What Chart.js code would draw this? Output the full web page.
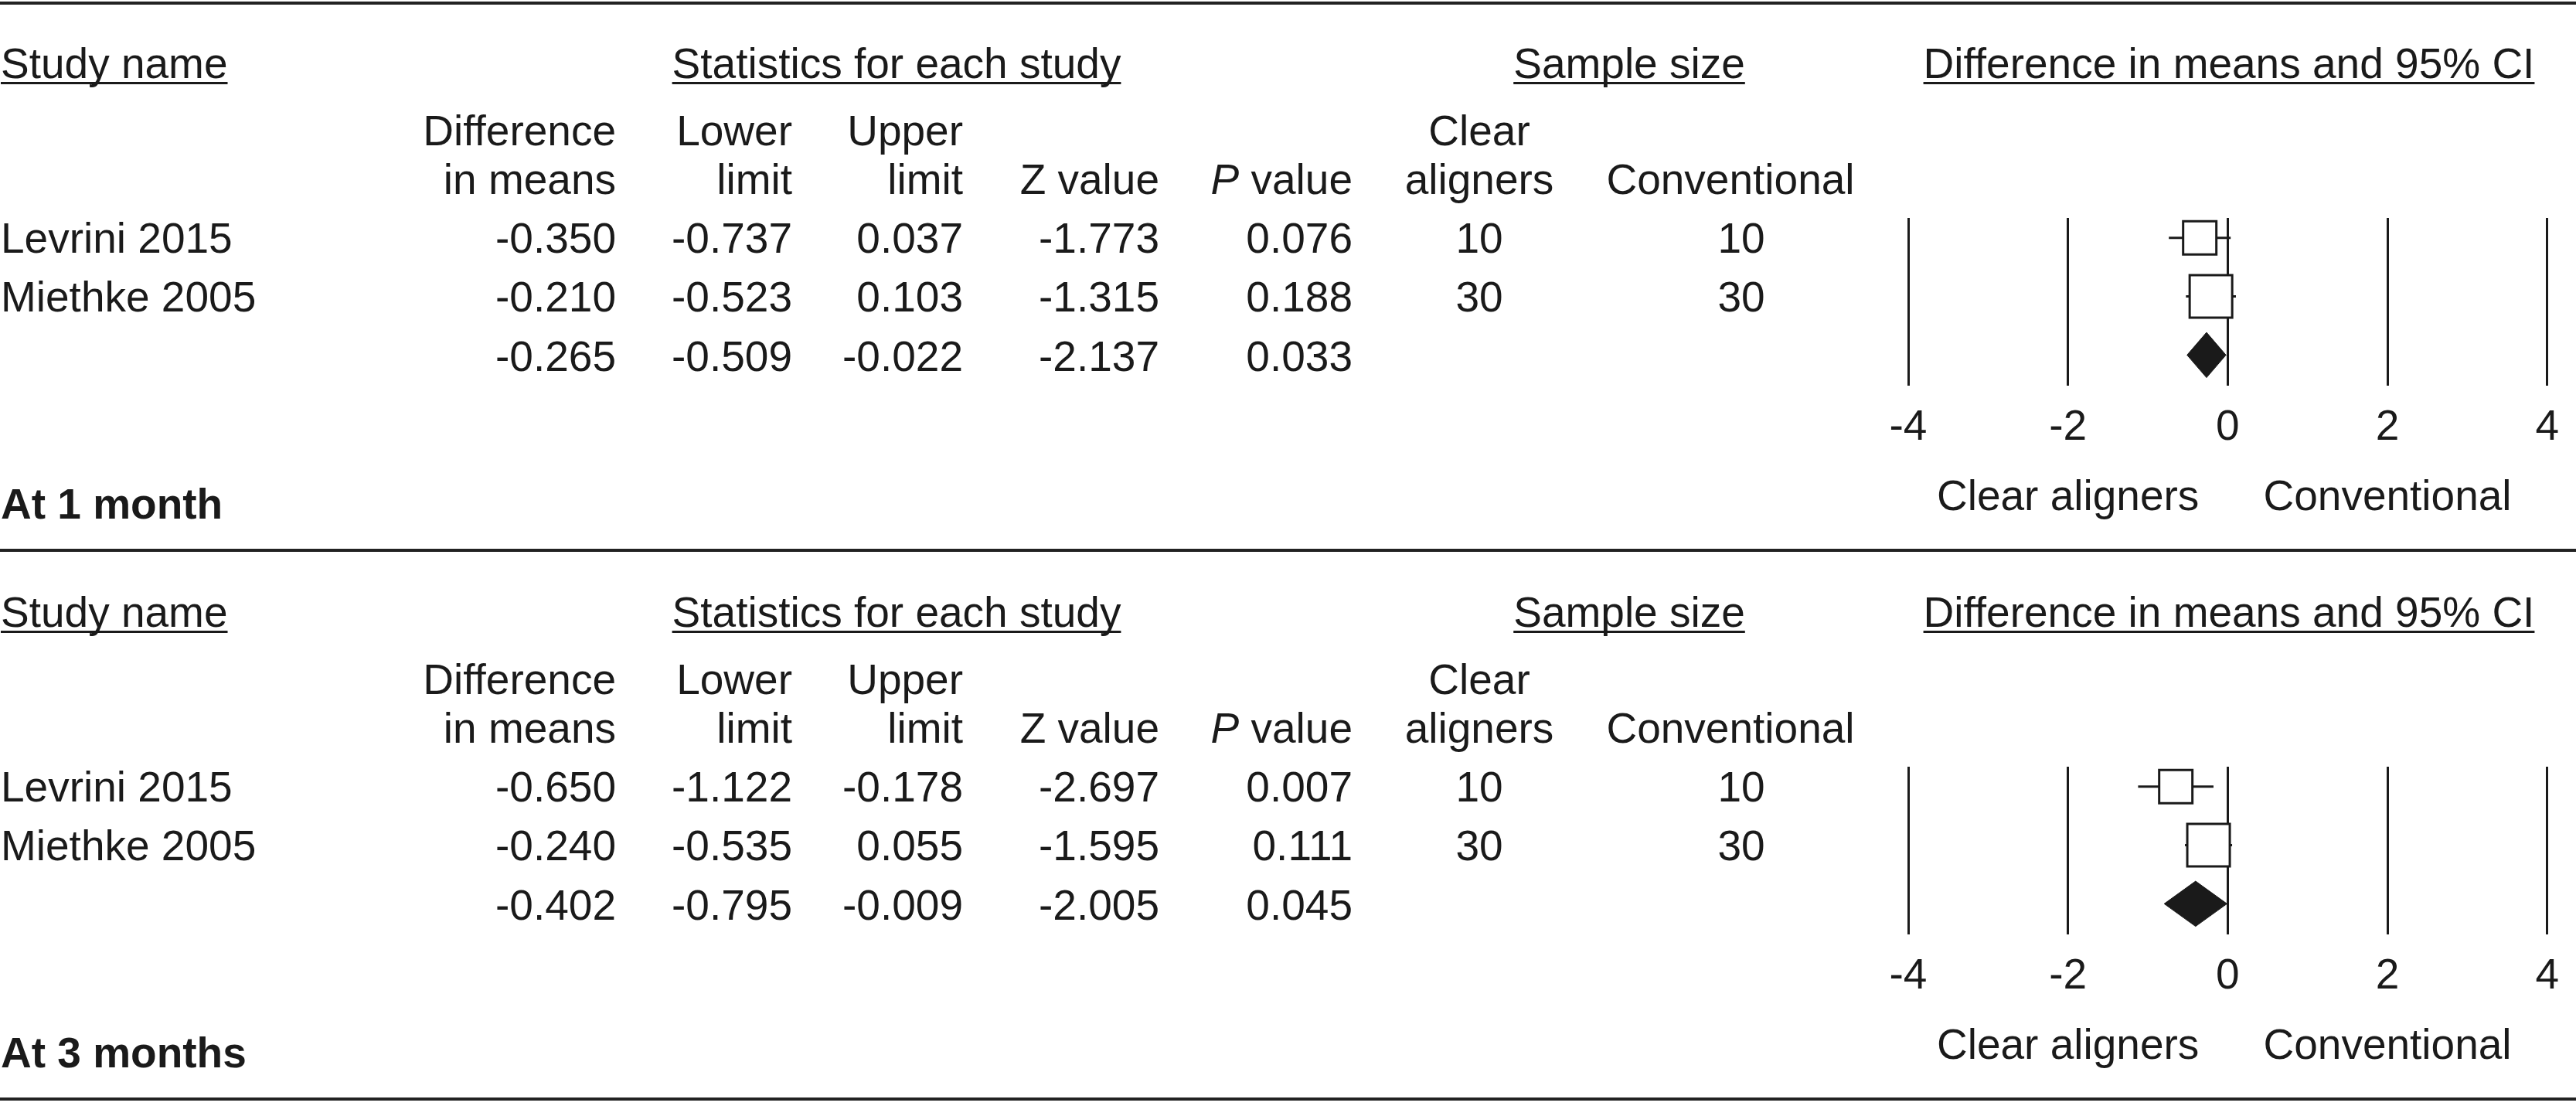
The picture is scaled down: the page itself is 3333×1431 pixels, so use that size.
<!DOCTYPE html>
<html>
<head>
<meta charset="utf-8">
<script src="https://cdn.jsdelivr.net/npm/chart.js@4.4.0/dist/chart.umd.min.js"></script>
<style>
  html, body { margin: 0; padding: 0; background: #fff; }
  body { width: 3333px; height: 1431px; position: relative; overflow: hidden;
         font-family: "Liberation Sans", Arial, sans-serif; font-size: 55px; color: #1a1a1a; }
  .t { position: absolute; white-space: nowrap; line-height: 66px; height: 66px; }
  .u { text-decoration: underline; text-decoration-thickness: 3px; text-underline-offset: 5px; text-decoration-skip-ink: none; }
  .b { font-weight: bold; }
  .rule { position: absolute; left: 0; width: 3333px; height: 4px; background: #222; }
  .plot { position: absolute; left: 2400px; width: 933px; height: 380px; }
</style>
</head>
<body>
<div class="rule" style="top:2px"></div>
<div class="rule" style="top:710px"></div>
<div class="rule" style="top:1420px"></div>
<div class="plot" style="top:240px"><canvas id="forest-1m" width="933" height="380"></canvas></div>
<div class="plot" style="top:950px"><canvas id="forest-3m" width="933" height="380"></canvas></div>
<script>
// data
var studyNames = ['Levrini 2015', 'Miethke 2005'];
var sampleClear = [10, 30];
var sampleConventional = [10, 30];

// last entry of each array is the pooled row
var diff1m   = [-0.350, -0.210, -0.265];
var lower1m  = [-0.737, -0.523, -0.509];
var upper1m  = [0.037, 0.103, -0.022];
var zValue1m = [-1.773, -1.315, -2.137];
var pValue1m = [0.076, 0.188, 0.033];

var diff3m   = [-0.650, -0.240, -0.402];
var lower3m  = [-1.122, -0.535, -0.795];
var upper3m  = [-0.178, 0.055, -0.009];
var zValue3m = [-2.697, -1.595, -2.005];
var pValue3m = [0.007, 0.111, 0.045];

var xTicks = [-4, -2, 0, 2, 4];
var favoursLabels = ['Clear aligners', 'Conventional'];

var ink = '#1a1a1a';
var fontFamily = '"Liberation Sans", Arial, sans-serif';
Chart.defaults.font.family = fontFamily;
Chart.defaults.color = ink;

function put(html, x, baseline, align, cls) {
    var d = document.createElement('div');
    d.className = 't' + (cls ? ' ' + cls : '');
    d.innerHTML = html;
    d.style.left = x + 'px';
    d.style.top = (baseline - 52) + 'px';
    if (align == 'right') d.style.transform = 'translateX(-100%)';
    if (align == 'center') d.style.transform = 'translateX(-50%)';
    document.body.appendChild(d);
}

function drawForest(canvasId, diff, lower, upper) {
    var rows = studyNames.length;
    var boxData = [];
    var datasets = [];
    for (let i = 0; i < rows; i++) {
        boxData.push({x: diff[i], y: i});
    }
    // boxes first so they sit on top of the whiskers
    datasets.push({
        data: boxData,
        pointStyle: 'rect',
        pointRadius: [30.4, 38.9],
        backgroundColor: '#ffffff',
        borderColor: ink,
        borderWidth: 3
    });
    for (let i = 0; i < rows; i++) {
        datasets.push({
            data: [{x: lower[i], y: i}, {x: upper[i], y: i}],
            showLine: true,
            borderColor: ink,
            borderWidth: 3,
            pointRadius: 0
        });
    }
    var k = rows;
    var hh = 0.386;
    datasets.push({
        data: [{x: lower[k], y: k}, {x: diff[k], y: k - hh}, {x: upper[k], y: k},
               {x: diff[k], y: k + hh}, {x: lower[k], y: k}],
        showLine: true,
        fill: 'shape',
        backgroundColor: ink,
        borderColor: ink,
        borderWidth: 1,
        pointRadius: 0
    });

    return new Chart(document.getElementById(canvasId).getContext('2d'), {
        type: 'scatter',
        data: {datasets: datasets},
        options: {
            responsive: false,
            animation: false,
            events: [],
            layout: {
                autoPadding: false,
                padding: {left: 69, right: 34, top: 42, bottom: 11}
            },
            plugins: {
                legend: {display: false},
                tooltip: {enabled: false}
            },
            scales: {
                x: {
                    type: 'linear',
                    min: xTicks[0],
                    max: xTicks[xTicks.length - 1],
                    afterBuildTicks: function (scale) {
                        scale.ticks = xTicks.map(v => ({value: v}));
                    },
                    grid: {color: ink, lineWidth: 3, drawTicks: false},
                    border: {display: false},
                    ticks: {
                        font: {size: 55, family: fontFamily},
                        color: ink,
                        padding: 22,
                        maxRotation: 0,
                        autoSkip: false
                    }
                },
                y: {
                    type: 'linear',
                    display: false,
                    reverse: true,
                    min: -0.34,
                    max: 2.523
                }
            }
        }
    });
}

function buildPanel(off, canvasId, title, diff, lower, upper, z, p) {
    var rightCols = [797, 1025, 1246, 1500, 1750];
    var nCols = [1914, 2253];

    put('Study name', 1, off + 101, 'left', 'u');
    put('Statistics for each study', 1160, off + 101, 'center', 'u');
    put('Sample size', 2108, off + 101, 'center', 'u');
    put('Difference in means and 95% CI', 2884, off + 101, 'center', 'u');

    put('Difference', rightCols[0], off + 188, 'right');
    put('Lower', rightCols[1], off + 188, 'right');
    put('Upper', rightCols[2], off + 188, 'right');
    put('Clear', nCols[0], off + 188, 'center');

    put('in means', rightCols[0], off + 251, 'right');
    put('limit', rightCols[1], off + 251, 'right');
    put('limit', rightCols[2], off + 251, 'right');
    put('Z value', rightCols[3], off + 251, 'right');
    put('<i>P</i> value', rightCols[4], off + 251, 'right');
    put('aligners', nCols[0], off + 251, 'center');
    put('Conventional', 2239, off + 251, 'center');

    var baselines = [327, 403, 480];
    for (let i = 0; i < diff.length; i++) {
        var b = off + baselines[i];
        if (i < studyNames.length) {
            put(studyNames[i], 1, b, 'left');
            put(String(sampleClear[i]), nCols[0], b, 'center');
            put(String(sampleConventional[i]), nCols[1], b, 'center');
        }
        put(diff[i].toFixed(3), rightCols[0], b, 'right');
        put(lower[i].toFixed(3), rightCols[1], b, 'right');
        put(upper[i].toFixed(3), rightCols[2], b, 'right');
        put(z[i].toFixed(3), rightCols[3], b, 'right');
        put(p[i].toFixed(3), rightCols[4], b, 'right');
    }

    put(title, 1, off + 671, 'left', 'b');

    var chart = drawForest(canvasId, diff, lower, upper);
    var sx = chart.scales.x;
    put(favoursLabels[0], 2400 + sx.getPixelForValue(-2), off + 660, 'center');
    put(favoursLabels[1], 2400 + sx.getPixelForValue(2), off + 660, 'center');
}

buildPanel(0, 'forest-1m', 'At 1 month', diff1m, lower1m, upper1m, zValue1m, pValue1m);
buildPanel(710, 'forest-3m', 'At 3 months', diff3m, lower3m, upper3m, zValue3m, pValue3m);
</script>
</body>
</html>
